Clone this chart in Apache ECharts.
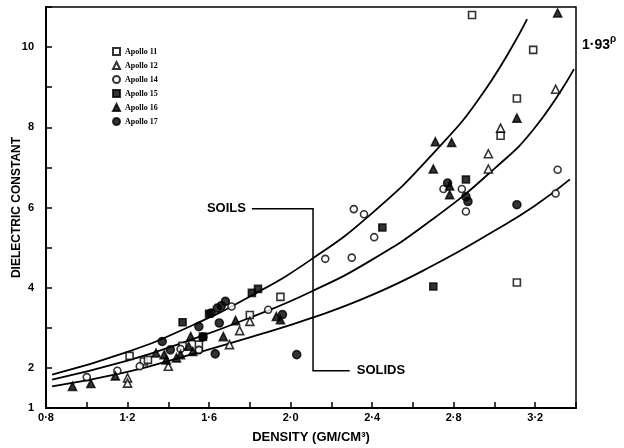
<!DOCTYPE html>
<html>
<head>
<meta charset="utf-8">
<script src="https://cdn.jsdelivr.net/npm/echarts@6/dist/echarts.min.js"></script>
<style>
html,body{margin:0;padding:0;background:#fff;}
#c{width:624px;height:448px;}
</style>
</head>
<body>
<div id="c"></div>
<script>
// ---- data ----
const xTicks = [0.8, 1.2, 1.6, 2.0, 2.4, 2.8, 3.2];
const yTicks = [1, 2, 4, 6, 8, 10];

const apollo11 = [[1.21,2.30],[1.28,2.16],[1.30,2.20],[1.47,2.55],[1.80,3.32],[1.95,3.77],[2.89,10.8],[3.19,9.93],[3.11,8.72],[3.03,7.79],[3.11,4.13],[1.55,2.58]];
const apollo12 = [[1.20,1.75],[1.20,1.62],[1.40,2.04],[1.70,2.58],[1.75,2.93],[1.80,3.16],[2.97,7.34],[2.97,6.96],[3.30,8.95],[3.03,7.98]];
const apollo14 = [[1.00,1.77],[1.15,1.93],[1.26,2.04],[1.46,2.47],[1.55,2.44],[1.71,3.53],[1.89,3.45],[2.17,4.72],[2.30,4.75],[2.31,5.96],[2.36,5.83],[2.41,5.26],[2.75,6.46],[2.84,6.46],[2.86,5.90],[3.31,6.94],[3.30,6.35],[1.55,2.45]];
const apollo15 = [[1.47,3.14],[1.81,3.87],[1.84,3.97],[2.45,5.50],[2.70,4.03],[2.86,6.70],[1.57,2.78],[1.60,3.35]];
const apollo16 = [[0.93,1.54],[1.02,1.61],[1.14,1.80],[1.34,2.37],[1.38,2.33],[1.39,2.20],[1.44,2.25],[1.46,2.33],[1.50,2.54],[1.51,2.78],[1.52,2.41],[1.67,2.78],[1.73,3.18],[1.93,3.28],[1.95,3.20],[2.71,7.64],[2.79,7.62],[2.70,6.96],[2.78,6.32],[2.78,6.54],[3.11,8.23],[3.31,10.85]];
const apollo17 = [[1.37,2.66],[1.41,2.45],[1.55,3.03],[1.57,2.77],[1.61,3.37],[1.64,3.49],[1.66,3.55],[1.68,3.66],[1.65,3.12],[1.63,2.35],[2.03,2.33],[2.77,6.61],[2.86,6.27],[2.87,6.15],[3.11,6.07],[1.96,3.33]];

const curveUpper  = [[0.83,1.83],[1.2,2.40],[1.5,3.02],[1.8,3.78],[2.1,4.70],[2.4,5.86],[2.7,7.35],[2.95,8.90],[3.16,10.70]];
const curveMiddle = [[0.83,1.71],[1.2,2.18],[1.5,2.68],[1.8,3.25],[2.1,3.90],[2.4,4.70],[2.7,5.72],[3.0,6.97],[3.2,8.00],[3.39,9.45]];
const curveLower  = [[0.83,1.54],[1.2,1.90],[1.5,2.32],[1.8,2.76],[2.1,3.24],[2.4,3.82],[2.7,4.56],[3.0,5.42],[3.2,6.05],[3.37,6.70]];

const font = '"Liberation Sans", Arial, sans-serif';

function scat(name, data, symbol, filled) {
  let size = symbol === 'triangle' ? 8 : 7;
  if (filled && symbol === 'circle') size = 8;
  return {
    name: name, type: 'scatter', data: data, symbol: symbol,
    symbolSize: size,
    itemStyle: { color: filled ? '#000' : '#fff', borderColor: '#000', borderWidth: 1.6 },
    z: 5
  };
}
function curve(data) {
  return {
    type: 'line', data: data, smooth: true, showSymbol: false, silent: true,
    lineStyle: { color: '#000', width: 1.8 }, z: 3
  };
}

const chart = echarts.init(document.getElementById('c'), null, { renderer: 'canvas' });
chart.setOption({
  animation: false,
  backgroundColor: '#fff',
  grid: { left: 46, right: 48, top: 7, bottom: 40, show: true, borderColor: '#000', borderWidth: 1.5, containLabel: false, outerBoundsMode: 'none' },
  legend: {
    orient: 'vertical', left: 107, top: 42, itemWidth: 7, itemHeight: 7, itemGap: 5,
    textStyle: { fontFamily: '"Liberation Serif", serif', fontSize: 8, fontWeight: 'bold', color: '#000' },
    data: ['Apollo 11','Apollo 12','Apollo 14','Apollo 15','Apollo 16','Apollo 17']
  },
  xAxis: {
    type: 'value', min: 0.8, max: 3.4, interval: 0.2,
    name: 'DENSITY (GM/CM\u00B3)', nameLocation: 'middle', nameGap: 23, nameMoveOverlap: false,
    nameTextStyle: { fontFamily: font, fontWeight: 'bold', fontSize: 13, color: '#000' },
    axisLine: { lineStyle: { color: '#000', width: 2 } },
    axisTick: { inside: true, length: 6, lineStyle: { color: '#000', width: 1.5 } },
    splitLine: { show: false },
    axisLabel: {
      color: '#000', fontFamily: font, fontWeight: 'bold', fontSize: 11, margin: 4,
      formatter: function (v) {
        const hit = xTicks.find(t => Math.abs(t - v) < 1e-6);
        return hit === undefined ? '' : hit.toFixed(1).replace('.', '\u00B7');
      }
    }
  },
  yAxis: {
    type: 'value', min: 1, max: 11, interval: 1,
    name: 'DIELECTRIC CONSTANT', nameLocation: 'middle', nameGap: 23, nameMoveOverlap: false,
    nameTextStyle: { fontFamily: font, fontWeight: 'bold', fontSize: 12, color: '#000' },
    axisLine: { lineStyle: { color: '#000', width: 2 } },
    axisTick: { inside: true, length: 6, lineStyle: { color: '#000', width: 1.5 } },
    splitLine: { show: false },
    axisLabel: {
      color: '#000', fontFamily: font, fontWeight: 'bold', fontSize: 11, margin: 12,
      formatter: function (v) { return yTicks.indexOf(Math.round(v)) >= 0 && Math.abs(v - Math.round(v)) < 1e-6 ? String(Math.round(v)) : ''; }
    }
  },
  series: [
    curve(curveUpper), curve(curveMiddle), curve(curveLower),
    scat('Apollo 11', apollo11, 'rect', false),
    scat('Apollo 12', apollo12, 'triangle', false),
    scat('Apollo 14', apollo14, 'circle', false),
    scat('Apollo 15', apollo15, 'rect', true),
    scat('Apollo 16', apollo16, 'triangle', true),
    scat('Apollo 17', apollo17, 'circle', true)
  ]
});

// annotation bracket
const p = (x, y) => chart.convertToPixel({ gridIndex: 0 }, [x, y]);
const a = p(1.81, 5.97), b = p(2.11, 5.97), c = p(2.11, 1.93), d = p(2.29, 1.93);
chart.setOption({
  graphic: [
    { type: 'polyline', shape: { points: [a, b, c, d] }, style: { stroke: '#000', lineWidth: 1.5, fill: null }, z: 10 },
    { type: 'text', x: a[0] - 6, y: a[1], style: { text: 'SOILS', fontFamily: font, fontWeight: 'bold', fontSize: 13, fill: '#000', textAlign: 'right', textVerticalAlign: 'middle' }, z: 10 },
    { type: 'text', x: d[0] + 7, y: d[1], style: { text: 'SOLIDS', fontFamily: font, fontWeight: 'bold', fontSize: 13, fill: '#000', textAlign: 'left', textVerticalAlign: 'middle' }, z: 10 },
    { type: 'text', left: 582, top: 34, style: { text: '{b|1\u00B793}{s|\u03C1}', rich: { b: { fontFamily: font, fontSize: 14, fontWeight: 'bold', fill: '#000', verticalAlign: 'bottom' }, s: { fontFamily: font, fontSize: 10, fontWeight: 'bold', fill: '#000', verticalAlign: 'top', padding: [0,0,8,0] } } }, z: 10 }
  ]
});
</script>
</body>
</html>
